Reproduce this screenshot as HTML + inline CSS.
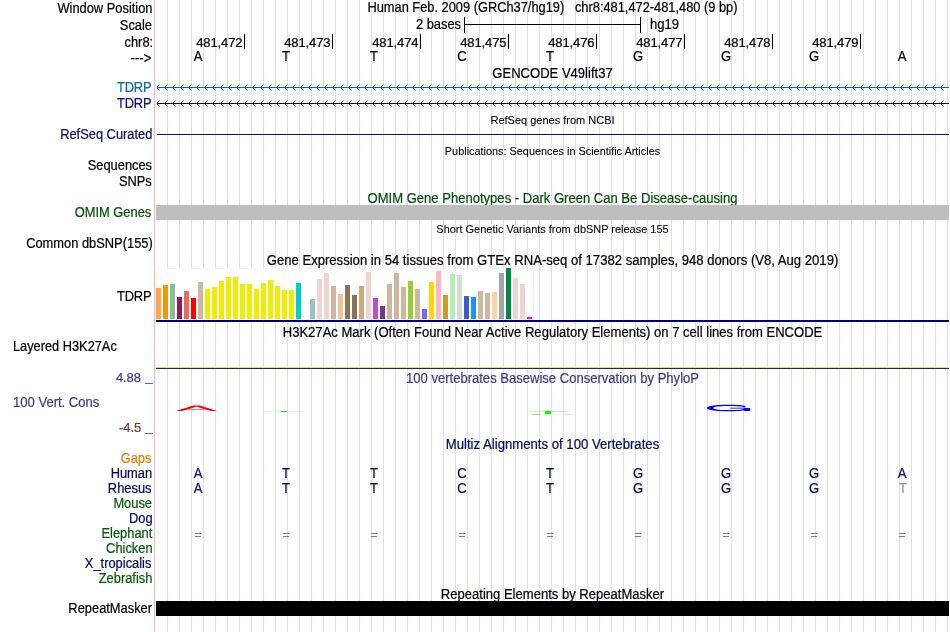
<!DOCTYPE html>
<html><head><meta charset="utf-8"><title>UCSC Genome Browser</title>
<style>
html,body{margin:0;padding:0;background:#fff;}
body{width:950px;height:632px;position:relative;overflow:hidden;font-family:"Liberation Sans",sans-serif;font-size:14px;color:#000;}
#c{will-change:transform;position:absolute;left:0;top:0;width:950px;height:632px;overflow:hidden;background:#fff;}
.t{-webkit-text-stroke:0.22px;position:absolute;white-space:nowrap;line-height:16px;height:16px;font-size:14px;transform:scaleX(0.932);}
.l{right:797.5px;text-align:right;transform-origin:100% 0;transform:scaleX(0.919);}
.c{left:156px;width:793px;text-align:center;transform-origin:50% 0;}
.s{font-size:11px;transform:none;-webkit-text-stroke:0.08px;}
.d{font-size:13px;transform:none;letter-spacing:-0.1px;}
.g{position:absolute;top:0;width:1px;height:632px;background:#dcdcff;}
.b{position:absolute;}
svg{position:absolute;left:0;top:0;}
</style></head><body><div id="c">
<div class="g" style="left:167px"></div><div class="g" style="left:179px"></div><div class="g" style="left:191px"></div><div class="g" style="left:203px"></div><div class="g" style="left:215px"></div><div class="g" style="left:227px"></div><div class="g" style="left:239px"></div><div class="g" style="left:251px"></div><div class="g" style="left:263px"></div><div class="g" style="left:275px"></div><div class="g" style="left:287px"></div><div class="g" style="left:299px"></div><div class="g" style="left:311px"></div><div class="g" style="left:323px"></div><div class="g" style="left:335px"></div><div class="g" style="left:347px"></div><div class="g" style="left:359px"></div><div class="g" style="left:371px"></div><div class="g" style="left:383px"></div><div class="g" style="left:395px"></div><div class="g" style="left:407px"></div><div class="g" style="left:419px"></div><div class="g" style="left:431px"></div><div class="g" style="left:443px"></div><div class="g" style="left:455px"></div><div class="g" style="left:467px"></div><div class="g" style="left:479px"></div><div class="g" style="left:491px"></div><div class="g" style="left:503px"></div><div class="g" style="left:515px"></div><div class="g" style="left:527px"></div><div class="g" style="left:539px"></div><div class="g" style="left:551px"></div><div class="g" style="left:563px"></div><div class="g" style="left:575px"></div><div class="g" style="left:587px"></div><div class="g" style="left:599px"></div><div class="g" style="left:611px"></div><div class="g" style="left:623px"></div><div class="g" style="left:635px"></div><div class="g" style="left:647px"></div><div class="g" style="left:659px"></div><div class="g" style="left:671px"></div><div class="g" style="left:683px"></div><div class="g" style="left:695px"></div><div class="g" style="left:707px"></div><div class="g" style="left:719px"></div><div class="g" style="left:731px"></div><div class="g" style="left:743px"></div><div class="g" style="left:755px"></div><div class="g" style="left:767px"></div><div class="g" style="left:779px"></div><div class="g" style="left:791px"></div><div class="g" style="left:803px"></div><div class="g" style="left:815px"></div><div class="g" style="left:827px"></div><div class="g" style="left:839px"></div><div class="g" style="left:851px"></div><div class="g" style="left:863px"></div><div class="g" style="left:875px"></div><div class="g" style="left:887px"></div><div class="g" style="left:899px"></div><div class="g" style="left:911px"></div><div class="g" style="left:923px"></div><div class="g" style="left:935px"></div><div class="g" style="left:947px"></div>
<div class="b" style="left:154px;top:0;width:1px;height:632px;background:#ffb4b4"></div>
<div class="t l" style="top:0px;">Window Position</div>
<div class="t l" style="top:17px;">Scale</div>
<div class="t l" style="top:34px;right:797.1px;">chr8:</div>
<div class="t l" style="top:50px;right:798.5px;">---&gt;</div>
<div class="t l" style="top:79px;letter-spacing:-0.2px;right:798.6px;color:#0a68ac;">TDRP</div>
<div class="t l" style="top:95px;letter-spacing:-0.2px;right:798.6px;color:#0c0c78;">TDRP</div>
<div class="t l" style="top:126px;color:#0c0c78;">RefSeq Curated</div>
<div class="t l" style="top:157px;right:798.4px;">Sequences</div>
<div class="t l" style="top:173px;right:798.4px;">SNPs</div>
<div class="t l" style="top:204px;right:798.4px;color:#005000;">OMIM Genes</div>
<div class="t l" style="top:235px;">Common dbSNP(155)</div>
<div class="t l" style="top:288px;letter-spacing:-0.2px;right:798.6px;">TDRP</div>
<div class="t" style="top:338px;left:13.2px;transform-origin:0 0;transform:scaleX(0.9134);">Layered H3K27Ac</div>
<div class="t" style="top:394px;left:13.2px;transform-origin:0 0;color:#3a3a8c;">100 Vert. Cons</div>
<div class="t d" style="top:370px;right:809.2px;text-align:right;color:#3a3a8c">4.88</div><div class="t d" style="top:420px;right:808.9px;text-align:right;color:#8c3232">-4.5</div><div class="b" style="left:145px;top:383px;width:8px;height:1px;opacity:.8;background:#3a3a8c"></div><div class="b" style="left:145px;top:433px;width:8px;height:1px;opacity:.8;background:#8c3232"></div>
<div class="t l" style="top:450px;right:798.4px;color:#e68200;">Gaps</div>
<div class="t l" style="top:465px;color:#000a64;">Human</div>
<div class="t l" style="top:480px;right:798.4px;color:#000a64;">Rhesus</div>
<div class="t l" style="top:495px;color:#005a0a;">Mouse</div>
<div class="t l" style="top:510px;color:#000a64;">Dog</div>
<div class="t l" style="top:525px;color:#005a0a;">Elephant</div>
<div class="t l" style="top:540px;color:#005a0a;">Chicken</div>
<div class="t l" style="top:555px;right:798.4px;color:#000a64;">X_tropicalis</div>
<div class="t l" style="top:570px;color:#005a0a;">Zebrafish</div>
<div class="t l" style="top:600px;">RepeatMasker</div>
<div class="t c" style="top:-1px;transform:scaleX(0.9162)">Human Feb. 2009 (GRCh37/hg19)&nbsp;&nbsp; chr8:481,472-481,480 (9 bp)</div>
<div class="t c" style="top:65px;">GENCODE V49lift37</div>
<div class="t c s" style="top:112px;">RefSeq genes from NCBI</div>
<div class="t c s" style="top:143px;transform:scaleX(0.9890);">Publications: Sequences in Scientific Articles</div>
<div class="t c" style="top:190px;color:#005000;">OMIM Gene Phenotypes - Dark Green Can Be Disease-causing</div>
<div class="t c s" style="top:221px;transform:scaleX(0.9960);">Short Genetic Variants from dbSNP release 155</div>
<div class="t c" style="top:252px;transform:scaleX(0.9357);left:155.5px;">Gene Expression in 54 tissues from GTEx RNA-seq of 17382 samples, 948 donors (V8, Aug 2019)</div>
<div class="t c" style="top:324px;">H3K27Ac Mark (Often Found Near Active Regulatory Elements) on 7 cell lines from ENCODE</div>
<div class="t c" style="top:370px;color:#3a3a8c;">100 vertebrates Basewise Conservation by PhyloP</div>
<div class="t c" style="top:436px;transform:scaleX(0.9395);color:#000a64;">Multiz Alignments of 100 Vertebrates</div>
<div class="t c" style="top:586px;">Repeating Elements by RepeatMasker</div>
<div class="t" style="top:16px;right:489.3px;text-align:right;transform-origin:100% 0;transform:scaleX(0.9208);">2 bases</div>
<div class="t" style="top:16px;left:650.0px;transform-origin:0 0;">hg19</div>
<div class="b" style="left:464px;top:24px;width:177px;height:1px;background:#000"></div><div class="b" style="left:464px;top:17px;width:1px;height:16px;background:#000"></div><div class="b" style="left:640px;top:17px;width:1px;height:16px;background:#000"></div>
<div class="b" style="left:244px;top:34px;width:1px;height:15px;background:#000"></div><div class="t d" style="top:35px;right:707.5px;text-align:right">481,472</div><div class="b" style="left:332px;top:34px;width:1px;height:15px;background:#000"></div><div class="t d" style="top:35px;right:619.5px;text-align:right">481,473</div><div class="b" style="left:420px;top:34px;width:1px;height:15px;background:#000"></div><div class="t d" style="top:35px;right:531.5px;text-align:right">481,474</div><div class="b" style="left:508px;top:34px;width:1px;height:15px;background:#000"></div><div class="t d" style="top:35px;right:443.5px;text-align:right">481,475</div><div class="b" style="left:596px;top:34px;width:1px;height:15px;background:#000"></div><div class="t d" style="top:35px;right:355.5px;text-align:right">481,476</div><div class="b" style="left:684px;top:34px;width:1px;height:15px;background:#000"></div><div class="t d" style="top:35px;right:267.5px;text-align:right">481,477</div><div class="b" style="left:772px;top:34px;width:1px;height:15px;background:#000"></div><div class="t d" style="top:35px;right:179.5px;text-align:right">481,478</div><div class="b" style="left:860px;top:34px;width:1px;height:15px;background:#000"></div><div class="t d" style="top:35px;right:91.5px;text-align:right">481,479</div><div class="t" style="top:48px;left:178.4px;width:40px;text-align:center;transform-origin:50% 0;">A</div>
<div class="t" style="top:48px;left:266.4px;width:40px;text-align:center;transform-origin:50% 0;">T</div>
<div class="t" style="top:48px;left:354.4px;width:40px;text-align:center;transform-origin:50% 0;">T</div>
<div class="t" style="top:48px;left:442.4px;width:40px;text-align:center;transform-origin:50% 0;">C</div>
<div class="t" style="top:48px;left:530.4px;width:40px;text-align:center;transform-origin:50% 0;">T</div>
<div class="t" style="top:48px;left:618.4px;width:40px;text-align:center;transform-origin:50% 0;">G</div>
<div class="t" style="top:48px;left:706.4px;width:40px;text-align:center;transform-origin:50% 0;">G</div>
<div class="t" style="top:48px;left:794.4px;width:40px;text-align:center;transform-origin:50% 0;">G</div>
<div class="t" style="top:48px;left:882.4px;width:40px;text-align:center;transform-origin:50% 0;">A</div>
<svg width="950" height="632" viewBox="0 0 950 632" shape-rendering="crispEdges"><g fill="#0a68ac"><rect x="157" y="87" width="792" height="1"/><rect x="156" y="87" width="1" height="1" opacity="0.2"/><path d="M157 86h1v1h-1zM157 88h1v1h-1zM165 86h1v1h-1zM165 88h1v1h-1zM173 86h1v1h-1zM173 88h1v1h-1zM181 86h1v1h-1zM181 88h1v1h-1zM189 86h1v1h-1zM189 88h1v1h-1zM197 86h1v1h-1zM197 88h1v1h-1zM205 86h1v1h-1zM205 88h1v1h-1zM213 86h1v1h-1zM213 88h1v1h-1zM221 86h1v1h-1zM221 88h1v1h-1zM229 86h1v1h-1zM229 88h1v1h-1zM237 86h1v1h-1zM237 88h1v1h-1zM245 86h1v1h-1zM245 88h1v1h-1zM253 86h1v1h-1zM253 88h1v1h-1zM261 86h1v1h-1zM261 88h1v1h-1zM269 86h1v1h-1zM269 88h1v1h-1zM277 86h1v1h-1zM277 88h1v1h-1zM285 86h1v1h-1zM285 88h1v1h-1zM293 86h1v1h-1zM293 88h1v1h-1zM301 86h1v1h-1zM301 88h1v1h-1zM309 86h1v1h-1zM309 88h1v1h-1zM317 86h1v1h-1zM317 88h1v1h-1zM325 86h1v1h-1zM325 88h1v1h-1zM333 86h1v1h-1zM333 88h1v1h-1zM341 86h1v1h-1zM341 88h1v1h-1zM349 86h1v1h-1zM349 88h1v1h-1zM357 86h1v1h-1zM357 88h1v1h-1zM365 86h1v1h-1zM365 88h1v1h-1zM373 86h1v1h-1zM373 88h1v1h-1zM381 86h1v1h-1zM381 88h1v1h-1zM389 86h1v1h-1zM389 88h1v1h-1zM397 86h1v1h-1zM397 88h1v1h-1zM405 86h1v1h-1zM405 88h1v1h-1zM413 86h1v1h-1zM413 88h1v1h-1zM421 86h1v1h-1zM421 88h1v1h-1zM429 86h1v1h-1zM429 88h1v1h-1zM437 86h1v1h-1zM437 88h1v1h-1zM445 86h1v1h-1zM445 88h1v1h-1zM453 86h1v1h-1zM453 88h1v1h-1zM461 86h1v1h-1zM461 88h1v1h-1zM469 86h1v1h-1zM469 88h1v1h-1zM477 86h1v1h-1zM477 88h1v1h-1zM485 86h1v1h-1zM485 88h1v1h-1zM493 86h1v1h-1zM493 88h1v1h-1zM501 86h1v1h-1zM501 88h1v1h-1zM509 86h1v1h-1zM509 88h1v1h-1zM517 86h1v1h-1zM517 88h1v1h-1zM525 86h1v1h-1zM525 88h1v1h-1zM533 86h1v1h-1zM533 88h1v1h-1zM541 86h1v1h-1zM541 88h1v1h-1zM549 86h1v1h-1zM549 88h1v1h-1zM557 86h1v1h-1zM557 88h1v1h-1zM565 86h1v1h-1zM565 88h1v1h-1zM573 86h1v1h-1zM573 88h1v1h-1zM581 86h1v1h-1zM581 88h1v1h-1zM589 86h1v1h-1zM589 88h1v1h-1zM597 86h1v1h-1zM597 88h1v1h-1zM605 86h1v1h-1zM605 88h1v1h-1zM613 86h1v1h-1zM613 88h1v1h-1zM621 86h1v1h-1zM621 88h1v1h-1zM629 86h1v1h-1zM629 88h1v1h-1zM637 86h1v1h-1zM637 88h1v1h-1zM645 86h1v1h-1zM645 88h1v1h-1zM653 86h1v1h-1zM653 88h1v1h-1zM661 86h1v1h-1zM661 88h1v1h-1zM669 86h1v1h-1zM669 88h1v1h-1zM677 86h1v1h-1zM677 88h1v1h-1zM685 86h1v1h-1zM685 88h1v1h-1zM693 86h1v1h-1zM693 88h1v1h-1zM701 86h1v1h-1zM701 88h1v1h-1zM709 86h1v1h-1zM709 88h1v1h-1zM717 86h1v1h-1zM717 88h1v1h-1zM725 86h1v1h-1zM725 88h1v1h-1zM733 86h1v1h-1zM733 88h1v1h-1zM741 86h1v1h-1zM741 88h1v1h-1zM749 86h1v1h-1zM749 88h1v1h-1zM757 86h1v1h-1zM757 88h1v1h-1zM765 86h1v1h-1zM765 88h1v1h-1zM773 86h1v1h-1zM773 88h1v1h-1zM781 86h1v1h-1zM781 88h1v1h-1zM789 86h1v1h-1zM789 88h1v1h-1zM797 86h1v1h-1zM797 88h1v1h-1zM805 86h1v1h-1zM805 88h1v1h-1zM813 86h1v1h-1zM813 88h1v1h-1zM821 86h1v1h-1zM821 88h1v1h-1zM829 86h1v1h-1zM829 88h1v1h-1zM837 86h1v1h-1zM837 88h1v1h-1zM845 86h1v1h-1zM845 88h1v1h-1zM853 86h1v1h-1zM853 88h1v1h-1zM861 86h1v1h-1zM861 88h1v1h-1zM869 86h1v1h-1zM869 88h1v1h-1zM877 86h1v1h-1zM877 88h1v1h-1zM885 86h1v1h-1zM885 88h1v1h-1zM893 86h1v1h-1zM893 88h1v1h-1zM901 86h1v1h-1zM901 88h1v1h-1zM909 86h1v1h-1zM909 88h1v1h-1zM917 86h1v1h-1zM917 88h1v1h-1zM925 86h1v1h-1zM925 88h1v1h-1zM933 86h1v1h-1zM933 88h1v1h-1zM941 86h1v1h-1zM941 88h1v1h-1z"/><path d="M158 85h1v1h-1zM158 89h1v1h-1zM166 85h1v1h-1zM166 89h1v1h-1zM174 85h1v1h-1zM174 89h1v1h-1zM182 85h1v1h-1zM182 89h1v1h-1zM190 85h1v1h-1zM190 89h1v1h-1zM198 85h1v1h-1zM198 89h1v1h-1zM206 85h1v1h-1zM206 89h1v1h-1zM214 85h1v1h-1zM214 89h1v1h-1zM222 85h1v1h-1zM222 89h1v1h-1zM230 85h1v1h-1zM230 89h1v1h-1zM238 85h1v1h-1zM238 89h1v1h-1zM246 85h1v1h-1zM246 89h1v1h-1zM254 85h1v1h-1zM254 89h1v1h-1zM262 85h1v1h-1zM262 89h1v1h-1zM270 85h1v1h-1zM270 89h1v1h-1zM278 85h1v1h-1zM278 89h1v1h-1zM286 85h1v1h-1zM286 89h1v1h-1zM294 85h1v1h-1zM294 89h1v1h-1zM302 85h1v1h-1zM302 89h1v1h-1zM310 85h1v1h-1zM310 89h1v1h-1zM318 85h1v1h-1zM318 89h1v1h-1zM326 85h1v1h-1zM326 89h1v1h-1zM334 85h1v1h-1zM334 89h1v1h-1zM342 85h1v1h-1zM342 89h1v1h-1zM350 85h1v1h-1zM350 89h1v1h-1zM358 85h1v1h-1zM358 89h1v1h-1zM366 85h1v1h-1zM366 89h1v1h-1zM374 85h1v1h-1zM374 89h1v1h-1zM382 85h1v1h-1zM382 89h1v1h-1zM390 85h1v1h-1zM390 89h1v1h-1zM398 85h1v1h-1zM398 89h1v1h-1zM406 85h1v1h-1zM406 89h1v1h-1zM414 85h1v1h-1zM414 89h1v1h-1zM422 85h1v1h-1zM422 89h1v1h-1zM430 85h1v1h-1zM430 89h1v1h-1zM438 85h1v1h-1zM438 89h1v1h-1zM446 85h1v1h-1zM446 89h1v1h-1zM454 85h1v1h-1zM454 89h1v1h-1zM462 85h1v1h-1zM462 89h1v1h-1zM470 85h1v1h-1zM470 89h1v1h-1zM478 85h1v1h-1zM478 89h1v1h-1zM486 85h1v1h-1zM486 89h1v1h-1zM494 85h1v1h-1zM494 89h1v1h-1zM502 85h1v1h-1zM502 89h1v1h-1zM510 85h1v1h-1zM510 89h1v1h-1zM518 85h1v1h-1zM518 89h1v1h-1zM526 85h1v1h-1zM526 89h1v1h-1zM534 85h1v1h-1zM534 89h1v1h-1zM542 85h1v1h-1zM542 89h1v1h-1zM550 85h1v1h-1zM550 89h1v1h-1zM558 85h1v1h-1zM558 89h1v1h-1zM566 85h1v1h-1zM566 89h1v1h-1zM574 85h1v1h-1zM574 89h1v1h-1zM582 85h1v1h-1zM582 89h1v1h-1zM590 85h1v1h-1zM590 89h1v1h-1zM598 85h1v1h-1zM598 89h1v1h-1zM606 85h1v1h-1zM606 89h1v1h-1zM614 85h1v1h-1zM614 89h1v1h-1zM622 85h1v1h-1zM622 89h1v1h-1zM630 85h1v1h-1zM630 89h1v1h-1zM638 85h1v1h-1zM638 89h1v1h-1zM646 85h1v1h-1zM646 89h1v1h-1zM654 85h1v1h-1zM654 89h1v1h-1zM662 85h1v1h-1zM662 89h1v1h-1zM670 85h1v1h-1zM670 89h1v1h-1zM678 85h1v1h-1zM678 89h1v1h-1zM686 85h1v1h-1zM686 89h1v1h-1zM694 85h1v1h-1zM694 89h1v1h-1zM702 85h1v1h-1zM702 89h1v1h-1zM710 85h1v1h-1zM710 89h1v1h-1zM718 85h1v1h-1zM718 89h1v1h-1zM726 85h1v1h-1zM726 89h1v1h-1zM734 85h1v1h-1zM734 89h1v1h-1zM742 85h1v1h-1zM742 89h1v1h-1zM750 85h1v1h-1zM750 89h1v1h-1zM758 85h1v1h-1zM758 89h1v1h-1zM766 85h1v1h-1zM766 89h1v1h-1zM774 85h1v1h-1zM774 89h1v1h-1zM782 85h1v1h-1zM782 89h1v1h-1zM790 85h1v1h-1zM790 89h1v1h-1zM798 85h1v1h-1zM798 89h1v1h-1zM806 85h1v1h-1zM806 89h1v1h-1zM814 85h1v1h-1zM814 89h1v1h-1zM822 85h1v1h-1zM822 89h1v1h-1zM830 85h1v1h-1zM830 89h1v1h-1zM838 85h1v1h-1zM838 89h1v1h-1zM846 85h1v1h-1zM846 89h1v1h-1zM854 85h1v1h-1zM854 89h1v1h-1zM862 85h1v1h-1zM862 89h1v1h-1zM870 85h1v1h-1zM870 89h1v1h-1zM878 85h1v1h-1zM878 89h1v1h-1zM886 85h1v1h-1zM886 89h1v1h-1zM894 85h1v1h-1zM894 89h1v1h-1zM902 85h1v1h-1zM902 89h1v1h-1zM910 85h1v1h-1zM910 89h1v1h-1zM918 85h1v1h-1zM918 89h1v1h-1zM926 85h1v1h-1zM926 89h1v1h-1zM934 85h1v1h-1zM934 89h1v1h-1zM942 85h1v1h-1zM942 89h1v1h-1z" opacity="0.9"/><path d="M159 84h1v1h-1zM159 90h1v1h-1zM167 84h1v1h-1zM167 90h1v1h-1zM175 84h1v1h-1zM175 90h1v1h-1zM183 84h1v1h-1zM183 90h1v1h-1zM191 84h1v1h-1zM191 90h1v1h-1zM199 84h1v1h-1zM199 90h1v1h-1zM207 84h1v1h-1zM207 90h1v1h-1zM215 84h1v1h-1zM215 90h1v1h-1zM223 84h1v1h-1zM223 90h1v1h-1zM231 84h1v1h-1zM231 90h1v1h-1zM239 84h1v1h-1zM239 90h1v1h-1zM247 84h1v1h-1zM247 90h1v1h-1zM255 84h1v1h-1zM255 90h1v1h-1zM263 84h1v1h-1zM263 90h1v1h-1zM271 84h1v1h-1zM271 90h1v1h-1zM279 84h1v1h-1zM279 90h1v1h-1zM287 84h1v1h-1zM287 90h1v1h-1zM295 84h1v1h-1zM295 90h1v1h-1zM303 84h1v1h-1zM303 90h1v1h-1zM311 84h1v1h-1zM311 90h1v1h-1zM319 84h1v1h-1zM319 90h1v1h-1zM327 84h1v1h-1zM327 90h1v1h-1zM335 84h1v1h-1zM335 90h1v1h-1zM343 84h1v1h-1zM343 90h1v1h-1zM351 84h1v1h-1zM351 90h1v1h-1zM359 84h1v1h-1zM359 90h1v1h-1zM367 84h1v1h-1zM367 90h1v1h-1zM375 84h1v1h-1zM375 90h1v1h-1zM383 84h1v1h-1zM383 90h1v1h-1zM391 84h1v1h-1zM391 90h1v1h-1zM399 84h1v1h-1zM399 90h1v1h-1zM407 84h1v1h-1zM407 90h1v1h-1zM415 84h1v1h-1zM415 90h1v1h-1zM423 84h1v1h-1zM423 90h1v1h-1zM431 84h1v1h-1zM431 90h1v1h-1zM439 84h1v1h-1zM439 90h1v1h-1zM447 84h1v1h-1zM447 90h1v1h-1zM455 84h1v1h-1zM455 90h1v1h-1zM463 84h1v1h-1zM463 90h1v1h-1zM471 84h1v1h-1zM471 90h1v1h-1zM479 84h1v1h-1zM479 90h1v1h-1zM487 84h1v1h-1zM487 90h1v1h-1zM495 84h1v1h-1zM495 90h1v1h-1zM503 84h1v1h-1zM503 90h1v1h-1zM511 84h1v1h-1zM511 90h1v1h-1zM519 84h1v1h-1zM519 90h1v1h-1zM527 84h1v1h-1zM527 90h1v1h-1zM535 84h1v1h-1zM535 90h1v1h-1zM543 84h1v1h-1zM543 90h1v1h-1zM551 84h1v1h-1zM551 90h1v1h-1zM559 84h1v1h-1zM559 90h1v1h-1zM567 84h1v1h-1zM567 90h1v1h-1zM575 84h1v1h-1zM575 90h1v1h-1zM583 84h1v1h-1zM583 90h1v1h-1zM591 84h1v1h-1zM591 90h1v1h-1zM599 84h1v1h-1zM599 90h1v1h-1zM607 84h1v1h-1zM607 90h1v1h-1zM615 84h1v1h-1zM615 90h1v1h-1zM623 84h1v1h-1zM623 90h1v1h-1zM631 84h1v1h-1zM631 90h1v1h-1zM639 84h1v1h-1zM639 90h1v1h-1zM647 84h1v1h-1zM647 90h1v1h-1zM655 84h1v1h-1zM655 90h1v1h-1zM663 84h1v1h-1zM663 90h1v1h-1zM671 84h1v1h-1zM671 90h1v1h-1zM679 84h1v1h-1zM679 90h1v1h-1zM687 84h1v1h-1zM687 90h1v1h-1zM695 84h1v1h-1zM695 90h1v1h-1zM703 84h1v1h-1zM703 90h1v1h-1zM711 84h1v1h-1zM711 90h1v1h-1zM719 84h1v1h-1zM719 90h1v1h-1zM727 84h1v1h-1zM727 90h1v1h-1zM735 84h1v1h-1zM735 90h1v1h-1zM743 84h1v1h-1zM743 90h1v1h-1zM751 84h1v1h-1zM751 90h1v1h-1zM759 84h1v1h-1zM759 90h1v1h-1zM767 84h1v1h-1zM767 90h1v1h-1zM775 84h1v1h-1zM775 90h1v1h-1zM783 84h1v1h-1zM783 90h1v1h-1zM791 84h1v1h-1zM791 90h1v1h-1zM799 84h1v1h-1zM799 90h1v1h-1zM807 84h1v1h-1zM807 90h1v1h-1zM815 84h1v1h-1zM815 90h1v1h-1zM823 84h1v1h-1zM823 90h1v1h-1zM831 84h1v1h-1zM831 90h1v1h-1zM839 84h1v1h-1zM839 90h1v1h-1zM847 84h1v1h-1zM847 90h1v1h-1zM855 84h1v1h-1zM855 90h1v1h-1zM863 84h1v1h-1zM863 90h1v1h-1zM871 84h1v1h-1zM871 90h1v1h-1zM879 84h1v1h-1zM879 90h1v1h-1zM887 84h1v1h-1zM887 90h1v1h-1zM895 84h1v1h-1zM895 90h1v1h-1zM903 84h1v1h-1zM903 90h1v1h-1zM911 84h1v1h-1zM911 90h1v1h-1zM919 84h1v1h-1zM919 90h1v1h-1zM927 84h1v1h-1zM927 90h1v1h-1zM935 84h1v1h-1zM935 90h1v1h-1zM943 84h1v1h-1zM943 90h1v1h-1z" opacity="0.42"/></g></svg>
<svg width="950" height="632" viewBox="0 0 950 632" shape-rendering="crispEdges"><g fill="#0c0c78"><rect x="157" y="103" width="792" height="1"/><rect x="156" y="103" width="1" height="1" opacity="0.2"/><path d="M157 102h1v1h-1zM157 104h1v1h-1zM165 102h1v1h-1zM165 104h1v1h-1zM173 102h1v1h-1zM173 104h1v1h-1zM181 102h1v1h-1zM181 104h1v1h-1zM189 102h1v1h-1zM189 104h1v1h-1zM197 102h1v1h-1zM197 104h1v1h-1zM205 102h1v1h-1zM205 104h1v1h-1zM213 102h1v1h-1zM213 104h1v1h-1zM221 102h1v1h-1zM221 104h1v1h-1zM229 102h1v1h-1zM229 104h1v1h-1zM237 102h1v1h-1zM237 104h1v1h-1zM245 102h1v1h-1zM245 104h1v1h-1zM253 102h1v1h-1zM253 104h1v1h-1zM261 102h1v1h-1zM261 104h1v1h-1zM269 102h1v1h-1zM269 104h1v1h-1zM277 102h1v1h-1zM277 104h1v1h-1zM285 102h1v1h-1zM285 104h1v1h-1zM293 102h1v1h-1zM293 104h1v1h-1zM301 102h1v1h-1zM301 104h1v1h-1zM309 102h1v1h-1zM309 104h1v1h-1zM317 102h1v1h-1zM317 104h1v1h-1zM325 102h1v1h-1zM325 104h1v1h-1zM333 102h1v1h-1zM333 104h1v1h-1zM341 102h1v1h-1zM341 104h1v1h-1zM349 102h1v1h-1zM349 104h1v1h-1zM357 102h1v1h-1zM357 104h1v1h-1zM365 102h1v1h-1zM365 104h1v1h-1zM373 102h1v1h-1zM373 104h1v1h-1zM381 102h1v1h-1zM381 104h1v1h-1zM389 102h1v1h-1zM389 104h1v1h-1zM397 102h1v1h-1zM397 104h1v1h-1zM405 102h1v1h-1zM405 104h1v1h-1zM413 102h1v1h-1zM413 104h1v1h-1zM421 102h1v1h-1zM421 104h1v1h-1zM429 102h1v1h-1zM429 104h1v1h-1zM437 102h1v1h-1zM437 104h1v1h-1zM445 102h1v1h-1zM445 104h1v1h-1zM453 102h1v1h-1zM453 104h1v1h-1zM461 102h1v1h-1zM461 104h1v1h-1zM469 102h1v1h-1zM469 104h1v1h-1zM477 102h1v1h-1zM477 104h1v1h-1zM485 102h1v1h-1zM485 104h1v1h-1zM493 102h1v1h-1zM493 104h1v1h-1zM501 102h1v1h-1zM501 104h1v1h-1zM509 102h1v1h-1zM509 104h1v1h-1zM517 102h1v1h-1zM517 104h1v1h-1zM525 102h1v1h-1zM525 104h1v1h-1zM533 102h1v1h-1zM533 104h1v1h-1zM541 102h1v1h-1zM541 104h1v1h-1zM549 102h1v1h-1zM549 104h1v1h-1zM557 102h1v1h-1zM557 104h1v1h-1zM565 102h1v1h-1zM565 104h1v1h-1zM573 102h1v1h-1zM573 104h1v1h-1zM581 102h1v1h-1zM581 104h1v1h-1zM589 102h1v1h-1zM589 104h1v1h-1zM597 102h1v1h-1zM597 104h1v1h-1zM605 102h1v1h-1zM605 104h1v1h-1zM613 102h1v1h-1zM613 104h1v1h-1zM621 102h1v1h-1zM621 104h1v1h-1zM629 102h1v1h-1zM629 104h1v1h-1zM637 102h1v1h-1zM637 104h1v1h-1zM645 102h1v1h-1zM645 104h1v1h-1zM653 102h1v1h-1zM653 104h1v1h-1zM661 102h1v1h-1zM661 104h1v1h-1zM669 102h1v1h-1zM669 104h1v1h-1zM677 102h1v1h-1zM677 104h1v1h-1zM685 102h1v1h-1zM685 104h1v1h-1zM693 102h1v1h-1zM693 104h1v1h-1zM701 102h1v1h-1zM701 104h1v1h-1zM709 102h1v1h-1zM709 104h1v1h-1zM717 102h1v1h-1zM717 104h1v1h-1zM725 102h1v1h-1zM725 104h1v1h-1zM733 102h1v1h-1zM733 104h1v1h-1zM741 102h1v1h-1zM741 104h1v1h-1zM749 102h1v1h-1zM749 104h1v1h-1zM757 102h1v1h-1zM757 104h1v1h-1zM765 102h1v1h-1zM765 104h1v1h-1zM773 102h1v1h-1zM773 104h1v1h-1zM781 102h1v1h-1zM781 104h1v1h-1zM789 102h1v1h-1zM789 104h1v1h-1zM797 102h1v1h-1zM797 104h1v1h-1zM805 102h1v1h-1zM805 104h1v1h-1zM813 102h1v1h-1zM813 104h1v1h-1zM821 102h1v1h-1zM821 104h1v1h-1zM829 102h1v1h-1zM829 104h1v1h-1zM837 102h1v1h-1zM837 104h1v1h-1zM845 102h1v1h-1zM845 104h1v1h-1zM853 102h1v1h-1zM853 104h1v1h-1zM861 102h1v1h-1zM861 104h1v1h-1zM869 102h1v1h-1zM869 104h1v1h-1zM877 102h1v1h-1zM877 104h1v1h-1zM885 102h1v1h-1zM885 104h1v1h-1zM893 102h1v1h-1zM893 104h1v1h-1zM901 102h1v1h-1zM901 104h1v1h-1zM909 102h1v1h-1zM909 104h1v1h-1zM917 102h1v1h-1zM917 104h1v1h-1zM925 102h1v1h-1zM925 104h1v1h-1zM933 102h1v1h-1zM933 104h1v1h-1zM941 102h1v1h-1zM941 104h1v1h-1z"/><path d="M158 101h1v1h-1zM158 105h1v1h-1zM166 101h1v1h-1zM166 105h1v1h-1zM174 101h1v1h-1zM174 105h1v1h-1zM182 101h1v1h-1zM182 105h1v1h-1zM190 101h1v1h-1zM190 105h1v1h-1zM198 101h1v1h-1zM198 105h1v1h-1zM206 101h1v1h-1zM206 105h1v1h-1zM214 101h1v1h-1zM214 105h1v1h-1zM222 101h1v1h-1zM222 105h1v1h-1zM230 101h1v1h-1zM230 105h1v1h-1zM238 101h1v1h-1zM238 105h1v1h-1zM246 101h1v1h-1zM246 105h1v1h-1zM254 101h1v1h-1zM254 105h1v1h-1zM262 101h1v1h-1zM262 105h1v1h-1zM270 101h1v1h-1zM270 105h1v1h-1zM278 101h1v1h-1zM278 105h1v1h-1zM286 101h1v1h-1zM286 105h1v1h-1zM294 101h1v1h-1zM294 105h1v1h-1zM302 101h1v1h-1zM302 105h1v1h-1zM310 101h1v1h-1zM310 105h1v1h-1zM318 101h1v1h-1zM318 105h1v1h-1zM326 101h1v1h-1zM326 105h1v1h-1zM334 101h1v1h-1zM334 105h1v1h-1zM342 101h1v1h-1zM342 105h1v1h-1zM350 101h1v1h-1zM350 105h1v1h-1zM358 101h1v1h-1zM358 105h1v1h-1zM366 101h1v1h-1zM366 105h1v1h-1zM374 101h1v1h-1zM374 105h1v1h-1zM382 101h1v1h-1zM382 105h1v1h-1zM390 101h1v1h-1zM390 105h1v1h-1zM398 101h1v1h-1zM398 105h1v1h-1zM406 101h1v1h-1zM406 105h1v1h-1zM414 101h1v1h-1zM414 105h1v1h-1zM422 101h1v1h-1zM422 105h1v1h-1zM430 101h1v1h-1zM430 105h1v1h-1zM438 101h1v1h-1zM438 105h1v1h-1zM446 101h1v1h-1zM446 105h1v1h-1zM454 101h1v1h-1zM454 105h1v1h-1zM462 101h1v1h-1zM462 105h1v1h-1zM470 101h1v1h-1zM470 105h1v1h-1zM478 101h1v1h-1zM478 105h1v1h-1zM486 101h1v1h-1zM486 105h1v1h-1zM494 101h1v1h-1zM494 105h1v1h-1zM502 101h1v1h-1zM502 105h1v1h-1zM510 101h1v1h-1zM510 105h1v1h-1zM518 101h1v1h-1zM518 105h1v1h-1zM526 101h1v1h-1zM526 105h1v1h-1zM534 101h1v1h-1zM534 105h1v1h-1zM542 101h1v1h-1zM542 105h1v1h-1zM550 101h1v1h-1zM550 105h1v1h-1zM558 101h1v1h-1zM558 105h1v1h-1zM566 101h1v1h-1zM566 105h1v1h-1zM574 101h1v1h-1zM574 105h1v1h-1zM582 101h1v1h-1zM582 105h1v1h-1zM590 101h1v1h-1zM590 105h1v1h-1zM598 101h1v1h-1zM598 105h1v1h-1zM606 101h1v1h-1zM606 105h1v1h-1zM614 101h1v1h-1zM614 105h1v1h-1zM622 101h1v1h-1zM622 105h1v1h-1zM630 101h1v1h-1zM630 105h1v1h-1zM638 101h1v1h-1zM638 105h1v1h-1zM646 101h1v1h-1zM646 105h1v1h-1zM654 101h1v1h-1zM654 105h1v1h-1zM662 101h1v1h-1zM662 105h1v1h-1zM670 101h1v1h-1zM670 105h1v1h-1zM678 101h1v1h-1zM678 105h1v1h-1zM686 101h1v1h-1zM686 105h1v1h-1zM694 101h1v1h-1zM694 105h1v1h-1zM702 101h1v1h-1zM702 105h1v1h-1zM710 101h1v1h-1zM710 105h1v1h-1zM718 101h1v1h-1zM718 105h1v1h-1zM726 101h1v1h-1zM726 105h1v1h-1zM734 101h1v1h-1zM734 105h1v1h-1zM742 101h1v1h-1zM742 105h1v1h-1zM750 101h1v1h-1zM750 105h1v1h-1zM758 101h1v1h-1zM758 105h1v1h-1zM766 101h1v1h-1zM766 105h1v1h-1zM774 101h1v1h-1zM774 105h1v1h-1zM782 101h1v1h-1zM782 105h1v1h-1zM790 101h1v1h-1zM790 105h1v1h-1zM798 101h1v1h-1zM798 105h1v1h-1zM806 101h1v1h-1zM806 105h1v1h-1zM814 101h1v1h-1zM814 105h1v1h-1zM822 101h1v1h-1zM822 105h1v1h-1zM830 101h1v1h-1zM830 105h1v1h-1zM838 101h1v1h-1zM838 105h1v1h-1zM846 101h1v1h-1zM846 105h1v1h-1zM854 101h1v1h-1zM854 105h1v1h-1zM862 101h1v1h-1zM862 105h1v1h-1zM870 101h1v1h-1zM870 105h1v1h-1zM878 101h1v1h-1zM878 105h1v1h-1zM886 101h1v1h-1zM886 105h1v1h-1zM894 101h1v1h-1zM894 105h1v1h-1zM902 101h1v1h-1zM902 105h1v1h-1zM910 101h1v1h-1zM910 105h1v1h-1zM918 101h1v1h-1zM918 105h1v1h-1zM926 101h1v1h-1zM926 105h1v1h-1zM934 101h1v1h-1zM934 105h1v1h-1zM942 101h1v1h-1zM942 105h1v1h-1z" opacity="0.9"/><path d="M159 100h1v1h-1zM159 106h1v1h-1zM167 100h1v1h-1zM167 106h1v1h-1zM175 100h1v1h-1zM175 106h1v1h-1zM183 100h1v1h-1zM183 106h1v1h-1zM191 100h1v1h-1zM191 106h1v1h-1zM199 100h1v1h-1zM199 106h1v1h-1zM207 100h1v1h-1zM207 106h1v1h-1zM215 100h1v1h-1zM215 106h1v1h-1zM223 100h1v1h-1zM223 106h1v1h-1zM231 100h1v1h-1zM231 106h1v1h-1zM239 100h1v1h-1zM239 106h1v1h-1zM247 100h1v1h-1zM247 106h1v1h-1zM255 100h1v1h-1zM255 106h1v1h-1zM263 100h1v1h-1zM263 106h1v1h-1zM271 100h1v1h-1zM271 106h1v1h-1zM279 100h1v1h-1zM279 106h1v1h-1zM287 100h1v1h-1zM287 106h1v1h-1zM295 100h1v1h-1zM295 106h1v1h-1zM303 100h1v1h-1zM303 106h1v1h-1zM311 100h1v1h-1zM311 106h1v1h-1zM319 100h1v1h-1zM319 106h1v1h-1zM327 100h1v1h-1zM327 106h1v1h-1zM335 100h1v1h-1zM335 106h1v1h-1zM343 100h1v1h-1zM343 106h1v1h-1zM351 100h1v1h-1zM351 106h1v1h-1zM359 100h1v1h-1zM359 106h1v1h-1zM367 100h1v1h-1zM367 106h1v1h-1zM375 100h1v1h-1zM375 106h1v1h-1zM383 100h1v1h-1zM383 106h1v1h-1zM391 100h1v1h-1zM391 106h1v1h-1zM399 100h1v1h-1zM399 106h1v1h-1zM407 100h1v1h-1zM407 106h1v1h-1zM415 100h1v1h-1zM415 106h1v1h-1zM423 100h1v1h-1zM423 106h1v1h-1zM431 100h1v1h-1zM431 106h1v1h-1zM439 100h1v1h-1zM439 106h1v1h-1zM447 100h1v1h-1zM447 106h1v1h-1zM455 100h1v1h-1zM455 106h1v1h-1zM463 100h1v1h-1zM463 106h1v1h-1zM471 100h1v1h-1zM471 106h1v1h-1zM479 100h1v1h-1zM479 106h1v1h-1zM487 100h1v1h-1zM487 106h1v1h-1zM495 100h1v1h-1zM495 106h1v1h-1zM503 100h1v1h-1zM503 106h1v1h-1zM511 100h1v1h-1zM511 106h1v1h-1zM519 100h1v1h-1zM519 106h1v1h-1zM527 100h1v1h-1zM527 106h1v1h-1zM535 100h1v1h-1zM535 106h1v1h-1zM543 100h1v1h-1zM543 106h1v1h-1zM551 100h1v1h-1zM551 106h1v1h-1zM559 100h1v1h-1zM559 106h1v1h-1zM567 100h1v1h-1zM567 106h1v1h-1zM575 100h1v1h-1zM575 106h1v1h-1zM583 100h1v1h-1zM583 106h1v1h-1zM591 100h1v1h-1zM591 106h1v1h-1zM599 100h1v1h-1zM599 106h1v1h-1zM607 100h1v1h-1zM607 106h1v1h-1zM615 100h1v1h-1zM615 106h1v1h-1zM623 100h1v1h-1zM623 106h1v1h-1zM631 100h1v1h-1zM631 106h1v1h-1zM639 100h1v1h-1zM639 106h1v1h-1zM647 100h1v1h-1zM647 106h1v1h-1zM655 100h1v1h-1zM655 106h1v1h-1zM663 100h1v1h-1zM663 106h1v1h-1zM671 100h1v1h-1zM671 106h1v1h-1zM679 100h1v1h-1zM679 106h1v1h-1zM687 100h1v1h-1zM687 106h1v1h-1zM695 100h1v1h-1zM695 106h1v1h-1zM703 100h1v1h-1zM703 106h1v1h-1zM711 100h1v1h-1zM711 106h1v1h-1zM719 100h1v1h-1zM719 106h1v1h-1zM727 100h1v1h-1zM727 106h1v1h-1zM735 100h1v1h-1zM735 106h1v1h-1zM743 100h1v1h-1zM743 106h1v1h-1zM751 100h1v1h-1zM751 106h1v1h-1zM759 100h1v1h-1zM759 106h1v1h-1zM767 100h1v1h-1zM767 106h1v1h-1zM775 100h1v1h-1zM775 106h1v1h-1zM783 100h1v1h-1zM783 106h1v1h-1zM791 100h1v1h-1zM791 106h1v1h-1zM799 100h1v1h-1zM799 106h1v1h-1zM807 100h1v1h-1zM807 106h1v1h-1zM815 100h1v1h-1zM815 106h1v1h-1zM823 100h1v1h-1zM823 106h1v1h-1zM831 100h1v1h-1zM831 106h1v1h-1zM839 100h1v1h-1zM839 106h1v1h-1zM847 100h1v1h-1zM847 106h1v1h-1zM855 100h1v1h-1zM855 106h1v1h-1zM863 100h1v1h-1zM863 106h1v1h-1zM871 100h1v1h-1zM871 106h1v1h-1zM879 100h1v1h-1zM879 106h1v1h-1zM887 100h1v1h-1zM887 106h1v1h-1zM895 100h1v1h-1zM895 106h1v1h-1zM903 100h1v1h-1zM903 106h1v1h-1zM911 100h1v1h-1zM911 106h1v1h-1zM919 100h1v1h-1zM919 106h1v1h-1zM927 100h1v1h-1zM927 106h1v1h-1zM935 100h1v1h-1zM935 106h1v1h-1zM943 100h1v1h-1zM943 106h1v1h-1z" opacity="0.42"/></g></svg>
<div class="b" style="left:157px;top:134px;width:792px;height:1px;background:#0c0c78"></div>
<div class="b" style="left:156px;top:205px;width:793px;height:15px;background:#bebebe"></div>
<div class="b" style="left:156px;top:268px;width:376px;height:51px;background:#fff;border:1px solid #f4f4f4;border-bottom:0"></div>
<div class="b" style="left:156px;top:288px;width:5px;height:31px;background:#FFA54F"></div><div class="b" style="left:163px;top:285px;width:5px;height:34px;background:#EE9A00"></div><div class="b" style="left:170px;top:284px;width:5px;height:35px;background:#8FBC8F"></div><div class="b" style="left:177px;top:297px;width:5px;height:22px;background:#8B1C62"></div><div class="b" style="left:184px;top:291px;width:5px;height:28px;background:#EE6A50"></div><div class="b" style="left:191px;top:298px;width:5px;height:21px;background:#FF0000"></div><div class="b" style="left:198px;top:282px;width:5px;height:37px;background:#CDB79E"></div><div class="b" style="left:205px;top:289px;width:5px;height:30px;background:#EEEE00"></div><div class="b" style="left:212px;top:287px;width:5px;height:32px;background:#EEEE00"></div><div class="b" style="left:219px;top:281px;width:5px;height:38px;background:#EEEE00"></div><div class="b" style="left:226px;top:277px;width:5px;height:42px;background:#EEEE00"></div><div class="b" style="left:233px;top:277px;width:5px;height:42px;background:#EEEE00"></div><div class="b" style="left:240px;top:284px;width:5px;height:35px;background:#EEEE00"></div><div class="b" style="left:247px;top:284px;width:5px;height:35px;background:#EEEE00"></div><div class="b" style="left:254px;top:289px;width:5px;height:30px;background:#EEEE00"></div><div class="b" style="left:261px;top:283px;width:5px;height:36px;background:#EEEE00"></div><div class="b" style="left:268px;top:280px;width:5px;height:39px;background:#EEEE00"></div><div class="b" style="left:275px;top:286px;width:5px;height:33px;background:#EEEE00"></div><div class="b" style="left:282px;top:290px;width:5px;height:29px;background:#EEEE00"></div><div class="b" style="left:289px;top:290px;width:5px;height:29px;background:#EEEE00"></div><div class="b" style="left:296px;top:283px;width:5px;height:36px;background:#00CDCD"></div><div class="b" style="left:310px;top:299px;width:5px;height:20px;background:#9AC0CD"></div><div class="b" style="left:317px;top:279px;width:5px;height:40px;background:#EED5D2"></div><div class="b" style="left:324px;top:273px;width:5px;height:46px;background:#EED5D2"></div><div class="b" style="left:331px;top:286px;width:5px;height:33px;background:#CDB79E"></div><div class="b" style="left:338px;top:294px;width:5px;height:25px;background:#EEC591"></div><div class="b" style="left:345px;top:285px;width:5px;height:34px;background:#8B7355"></div><div class="b" style="left:352px;top:295px;width:5px;height:24px;background:#8B7355"></div><div class="b" style="left:359px;top:286px;width:5px;height:33px;background:#CDAA7D"></div><div class="b" style="left:366px;top:272px;width:5px;height:47px;background:#EED5D2"></div><div class="b" style="left:373px;top:298px;width:5px;height:21px;background:#B452CD"></div><div class="b" style="left:380px;top:306px;width:5px;height:13px;background:#7A378B"></div><div class="b" style="left:387px;top:284px;width:5px;height:35px;background:#CDB79E"></div><div class="b" style="left:394px;top:273px;width:5px;height:46px;background:#CDB79E"></div><div class="b" style="left:401px;top:287px;width:5px;height:32px;background:#CDB79E"></div><div class="b" style="left:408px;top:281px;width:5px;height:38px;background:#9ACD32"></div><div class="b" style="left:415px;top:289px;width:5px;height:30px;background:#CDB79E"></div><div class="b" style="left:422px;top:309px;width:5px;height:10px;background:#7A67EE"></div><div class="b" style="left:429px;top:282px;width:5px;height:37px;background:#FFD700"></div><div class="b" style="left:436px;top:271px;width:5px;height:48px;background:#FFB6C1"></div><div class="b" style="left:443px;top:295px;width:5px;height:24px;background:#CD9B1D"></div><div class="b" style="left:450px;top:274px;width:5px;height:45px;background:#B4EEB4"></div><div class="b" style="left:457px;top:275px;width:5px;height:44px;background:#D9D9D9"></div><div class="b" style="left:464px;top:296px;width:5px;height:23px;background:#3A5FCD"></div><div class="b" style="left:471px;top:297px;width:5px;height:22px;background:#1E90FF"></div><div class="b" style="left:478px;top:291px;width:5px;height:28px;background:#CDB79E"></div><div class="b" style="left:485px;top:293px;width:5px;height:26px;background:#CDB79E"></div><div class="b" style="left:492px;top:292px;width:5px;height:27px;background:#FFD39B"></div><div class="b" style="left:499px;top:273px;width:5px;height:46px;background:#A6A6A6"></div><div class="b" style="left:506px;top:268px;width:5px;height:51px;background:#008B45"></div><div class="b" style="left:513px;top:278px;width:5px;height:41px;background:#EED5D2"></div><div class="b" style="left:520px;top:284px;width:5px;height:35px;background:#EED5D2"></div><div class="b" style="left:527px;top:317px;width:5px;height:2px;background:#FF00FF"></div>
<div class="b" style="left:156px;top:320px;width:793px;height:2px;background:#00007c"></div>
<div class="b" style="left:156px;top:367px;width:793px;height:1px;background:#ffd06e"></div><div class="b" style="left:156px;top:368px;width:793px;height:1px;background:#2a2250"></div>
<svg width="950" height="632" viewBox="0 0 950 632">
<path fill-rule="evenodd" fill="#ff0000" d="M175.8 411.1 L193.3 405.6 L199.7 405.6 L217.2 411.1 L211 411.1 L205.6 409.6 L187.4 409.6 L182 411.1 Z M196.5 406.5 L203.8 409 L189.2 409 Z"/>
<rect x="265" y="411" width="38" height="1" fill="#00ff00" opacity="0.12"/>
<rect x="281" y="411" width="6" height="1" fill="#00ee00"/>
<rect x="529" y="411" width="38" height="1" fill="#00ff00" opacity="0.3"/>
<rect x="545" y="411" width="6" height="3" fill="#00ff00"/>
<rect x="532" y="414" width="8" height="1" fill="#b4a000" opacity="0.6"/>
<rect x="540" y="414" width="24" height="1" fill="#b4a000" opacity="0.12"/>
<rect x="564" y="414" width="7" height="1" fill="#b4a000" opacity="0.25"/>
<path fill-rule="evenodd" fill="#0000ff" d="M724.8 404.8 H732.2 A18 3.2 0 0 1 750.2 408 A18 3.2 0 0 1 732.2 411.2 H724.8 A18 3.2 0 0 1 706.8 408 A18 3.2 0 0 1 724.8 404.8 Z M725.2 405.9 H733 A12 2.1 0 0 1 745 408 A12 2.1 0 0 1 733 410.1 H725.2 A12 2.1 0 0 1 713.2 408 A12 2.1 0 0 1 725.2 405.9 Z"/>
<path d="M749.3 404 L752 404 L752 408.1 L744.5 408.1 L744.5 407.1 Z" fill="#fff"/>
<rect x="730.3" y="407.7" width="15" height="0.9" fill="#0000ff" opacity="0.9"/>
<rect x="744.4" y="408.1" width="5.8" height="2.9" fill="#0000ff"/>
</svg>
<div class="t" style="top:465px;left:178.4px;width:40px;text-align:center;transform-origin:50% 0;color:#000a64;">A</div>
<div class="t" style="top:480px;left:178.4px;width:40px;text-align:center;transform-origin:50% 0;color:#000a64;">A</div>
<div class="b" style="left:195px;top:533px;width:6px;height:1px;background:#7676ae"></div><div class="b" style="left:195px;top:536px;width:6px;height:1px;background:#7676ae"></div><div class="t" style="top:465px;left:266.4px;width:40px;text-align:center;transform-origin:50% 0;color:#000a64;">T</div>
<div class="t" style="top:480px;left:266.4px;width:40px;text-align:center;transform-origin:50% 0;color:#000a64;">T</div>
<div class="b" style="left:283px;top:533px;width:6px;height:1px;background:#7676ae"></div><div class="b" style="left:283px;top:536px;width:6px;height:1px;background:#7676ae"></div><div class="t" style="top:465px;left:354.4px;width:40px;text-align:center;transform-origin:50% 0;color:#000a64;">T</div>
<div class="t" style="top:480px;left:354.4px;width:40px;text-align:center;transform-origin:50% 0;color:#000a64;">T</div>
<div class="b" style="left:371px;top:533px;width:6px;height:1px;background:#7676ae"></div><div class="b" style="left:371px;top:536px;width:6px;height:1px;background:#7676ae"></div><div class="t" style="top:465px;left:442.4px;width:40px;text-align:center;transform-origin:50% 0;color:#000a64;">C</div>
<div class="t" style="top:480px;left:442.4px;width:40px;text-align:center;transform-origin:50% 0;color:#000a64;">C</div>
<div class="b" style="left:459px;top:533px;width:6px;height:1px;background:#7676ae"></div><div class="b" style="left:459px;top:536px;width:6px;height:1px;background:#7676ae"></div><div class="t" style="top:465px;left:530.4px;width:40px;text-align:center;transform-origin:50% 0;color:#000a64;">T</div>
<div class="t" style="top:480px;left:530.4px;width:40px;text-align:center;transform-origin:50% 0;color:#000a64;">T</div>
<div class="b" style="left:547px;top:533px;width:6px;height:1px;background:#7676ae"></div><div class="b" style="left:547px;top:536px;width:6px;height:1px;background:#7676ae"></div><div class="t" style="top:465px;left:618.4px;width:40px;text-align:center;transform-origin:50% 0;color:#000a64;">G</div>
<div class="t" style="top:480px;left:618.4px;width:40px;text-align:center;transform-origin:50% 0;color:#000a64;">G</div>
<div class="b" style="left:635px;top:533px;width:6px;height:1px;background:#7676ae"></div><div class="b" style="left:635px;top:536px;width:6px;height:1px;background:#7676ae"></div><div class="t" style="top:465px;left:706.4px;width:40px;text-align:center;transform-origin:50% 0;color:#000a64;">G</div>
<div class="t" style="top:480px;left:706.4px;width:40px;text-align:center;transform-origin:50% 0;color:#000a64;">G</div>
<div class="b" style="left:723px;top:533px;width:6px;height:1px;background:#7676ae"></div><div class="b" style="left:723px;top:536px;width:6px;height:1px;background:#7676ae"></div><div class="t" style="top:465px;left:794.4px;width:40px;text-align:center;transform-origin:50% 0;color:#000a64;">G</div>
<div class="t" style="top:480px;left:794.4px;width:40px;text-align:center;transform-origin:50% 0;color:#000a64;">G</div>
<div class="b" style="left:811px;top:533px;width:6px;height:1px;background:#7676ae"></div><div class="b" style="left:811px;top:536px;width:6px;height:1px;background:#7676ae"></div><div class="t" style="top:465px;left:882.4px;width:40px;text-align:center;transform-origin:50% 0;color:#000a64;">A</div>
<div class="t" style="top:480px;left:883.4px;width:40px;text-align:center;transform-origin:50% 0;color:#8f94be;">T</div>
<div class="b" style="left:899px;top:533px;width:6px;height:1px;background:#7676ae"></div><div class="b" style="left:899px;top:536px;width:6px;height:1px;background:#7676ae"></div><div class="b" style="left:156px;top:601px;width:793px;height:15px;background:#000"></div>
</div></body></html>
